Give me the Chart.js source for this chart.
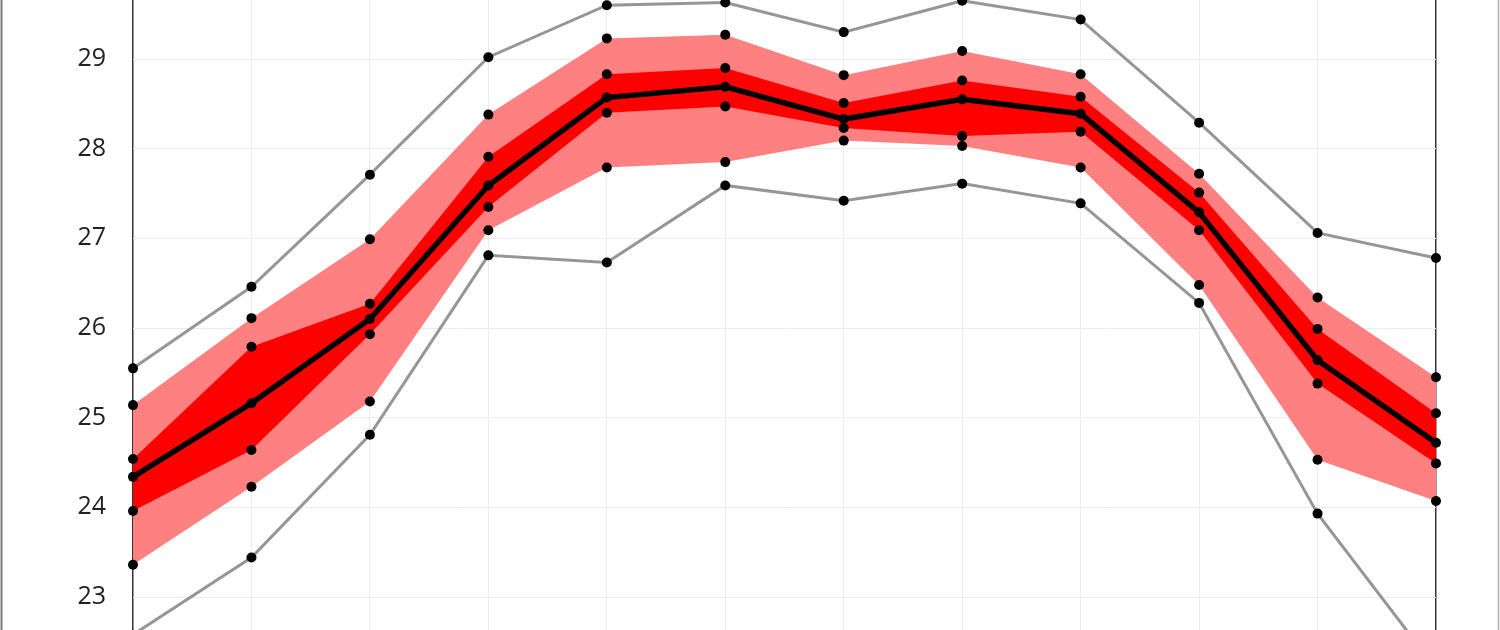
<!DOCTYPE html>
<html>
<head>
<meta charset="utf-8">
<script src="https://cdn.jsdelivr.net/npm/chart.js@4"></script>
<style>
  html, body { margin: 0; padding: 0; background: #fff; }
  #wrap { position: relative; width: 1500px; height: 630px; }
</style>
</head>
<body>
<div id="wrap"><canvas id="c"></canvas></div>
<script>
// ---- data ----
const categories = ['Jan','Feb','Mar','Apr','May','Jun','Jul','Aug','Sep','Oct','Nov','Dec'];
const maxT   = [25.55, 26.46, 27.71, 29.02, 29.60, 29.63, 29.30, 29.65, 29.44, 28.29, 27.06, 26.78];
const p90    = [25.14, 26.11, 26.99, 28.38, 29.23, 29.27, 28.82, 29.09, 28.83, 27.72, 26.34, 25.45];
const p75    = [24.54, 25.79, 26.27, 27.91, 28.83, 28.90, 28.51, 28.76, 28.58, 27.51, 25.99, 25.05];
const median = [24.34, 25.16, 26.10, 27.59, 28.57, 28.69, 28.33, 28.55, 28.39, 27.29, 25.64, 24.72];
const p25    = [23.96, 24.64, 25.93, 27.35, 28.40, 28.47, 28.23, 28.14, 28.19, 27.09, 25.38, 24.49];
const p10    = [23.36, 24.23, 25.18, 27.09, 27.79, 27.85, 28.09, 28.03, 27.79, 26.48, 24.53, 24.07];
const minT   = [22.58, 23.44, 24.81, 26.81, 26.73, 27.59, 27.42, 27.61, 27.39, 26.28, 23.93, 22.20];
const yTicks = [23, 24, 25, 26, 27, 28, 29];

const pt = { pointRadius: 5, pointHoverRadius: 5, pointBackgroundColor: '#000', pointBorderWidth: 0, tension: 0 };

const frame = {
  id: 'frame',
  afterDraw(chart) {
    const ctx = chart.ctx;
    ctx.save();
    ctx.strokeStyle = '#7a7a7a';
    ctx.lineWidth = 2;
    ctx.beginPath(); ctx.moveTo(1.5, 0); ctx.lineTo(1.5, 630); ctx.stroke();
    ctx.strokeStyle = '#b0b0b0';
    ctx.lineWidth = 1.5;
    ctx.beginPath(); ctx.moveTo(1498.5, 0); ctx.lineTo(1498.5, 630); ctx.stroke();
    ctx.restore();
  }
};

new Chart(document.getElementById('c'), {
  type: 'line',
  data: {
    labels: categories,
    datasets: [
      { label: 'Median', data: median, borderColor: '#000', borderWidth: 5.5, fill: false, ...pt },
      { label: 'P75', data: p75, borderWidth: 0, borderColor: 'rgba(0,0,0,0)', backgroundColor: '#ff0000', fill: '+1', ...pt },
      { label: 'P25', data: p25, borderWidth: 0, borderColor: 'rgba(0,0,0,0)', fill: false, ...pt },
      { label: 'P90', data: p90, borderWidth: 0, borderColor: 'rgba(0,0,0,0)', backgroundColor: '#ff8080', fill: '+1', ...pt },
      { label: 'P10', data: p10, borderWidth: 0, borderColor: 'rgba(0,0,0,0)', fill: false, ...pt },
      { label: 'Max', data: maxT, borderColor: '#969696', borderWidth: 3, fill: false, ...pt },
      { label: 'Min', data: minT, borderColor: '#969696', borderWidth: 3, fill: false, ...pt }
    ]
  },
  options: {
    responsive: true,
    maintainAspectRatio: false,
    animation: false,
    layout: { autoPadding: false, padding: { left: 0, right: 64, top: 0, bottom: 0 } },
    plugins: {
      legend: { display: false },
      tooltip: { enabled: false },
      filler: { drawTime: 'beforeDatasetsDraw' }
    },
    scales: {
      x: {
        type: 'category',
        offset: false,
        grid: {
          drawTicks: false,
          color: (c) => (c.index === 0 || c.index === categories.length - 1) ? '#333333' : '#ececec',
          lineWidth: (c) => (c.index === 0 || c.index === categories.length - 1) ? 1.5 : 1
        },
        border: { display: false },
        ticks: { display: false },
        afterFit(s) { s.height = 0; s.paddingLeft = 0; s.paddingRight = 0; s.paddingTop = 0; s.paddingBottom = 0; }
      },
      y: {
        min: 22.632,
        max: 29.658,
        grid: { drawTicks: false, color: '#ececec' },
        border: { display: false },
        ticks: {
          includeBounds: false,
          padding: 27,
          color: '#222222',
          font: { family: '"Open Sans", "Noto Sans", sans-serif', size: 25 }
        },
        afterBuildTicks(s) { s.ticks = yTicks.map(v => ({ value: v })); },
        afterFit(s) { s.width = 133; s.paddingTop = 0; s.paddingBottom = 0; }
      }
    }
  },
  plugins: [frame]
});
</script>
</body>
</html>
